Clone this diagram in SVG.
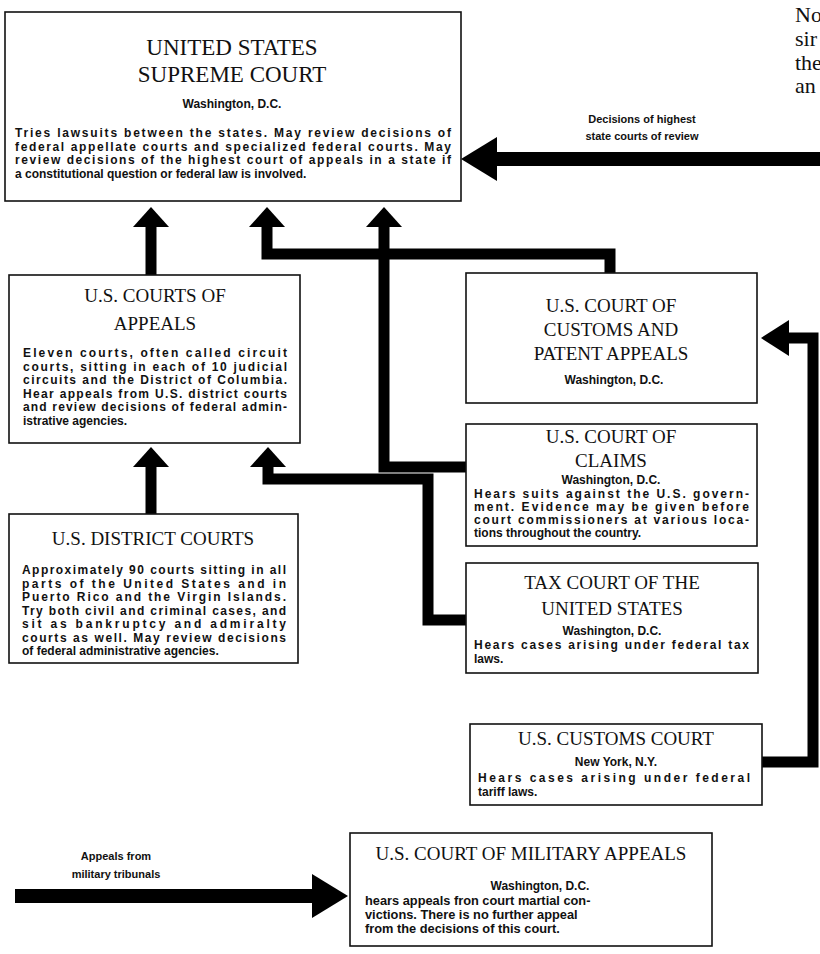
<svg xmlns="http://www.w3.org/2000/svg" width="820" height="954" viewBox="0 0 820 954">
<style>
.box{fill:#fff;stroke:#111;stroke-width:1.6}
.t{font-family:"Liberation Serif",serif;font-size:19px;text-anchor:middle;fill:#111}
.tb{font-family:"Liberation Serif",serif;font-size:23px;text-anchor:middle;fill:#111}
.loc{font-family:"Liberation Sans",sans-serif;font-weight:bold;font-size:12px;text-anchor:middle;fill:#111}
.b{font-family:"Liberation Sans",sans-serif;font-weight:bold;font-size:12px;fill:#111}
.bs{font-family:"Liberation Sans",sans-serif;font-weight:bold;font-size:12.8px;fill:#111}
.lab{font-family:"Liberation Sans",sans-serif;font-weight:bold;font-size:11px;text-anchor:middle;fill:#111}
.frag{font-family:"Liberation Serif",serif;font-size:22px;fill:#111}
.c{fill:none;stroke:#000;stroke-width:11;stroke-linejoin:miter}
.cw{fill:none;stroke:#000;stroke-width:14}
</style>
<defs>
<marker id="ah" markerUnits="userSpaceOnUse" viewBox="0 0 20 36" markerWidth="20" markerHeight="36" refX="1" refY="18" orient="auto">
<path d="M0,0 L20,18 L0,36 Z" fill="#000"/>
</marker>
<marker id="ahL" markerUnits="userSpaceOnUse" viewBox="0 0 36 44" markerWidth="36" markerHeight="44" refX="1" refY="22" orient="auto">
<path d="M0,0 L36,22 L0,44 Z" fill="#000"/>
</marker>
<marker id="ahM" markerUnits="userSpaceOnUse" viewBox="0 0 28 36" markerWidth="28" markerHeight="36" refX="1" refY="18" orient="auto">
<path d="M0,0 L28,18 L0,36 Z" fill="#000"/>
</marker>
</defs>

<g id="page-fragment">
<text class="frag" x="795" y="22">No</text>
<text class="frag" x="795" y="46">sir</text>
<text class="frag" x="795" y="70">the</text>
<text class="frag" x="795" y="93">an</text>
</g>

<g id="connectors">
<polyline class="cw" points="820,159 496,159" marker-end="url(#ahL)"/>
<polyline class="c" points="151,514 151,466" marker-end="url(#ah)"/>
<polyline class="c" points="151,276 151,226" marker-end="url(#ah)"/>
<polyline class="c" points="466,620 428,620 428,479 268,479 268,466" marker-end="url(#ah)"/>
<polyline class="c" points="610,273 610,254 267,254 267,226" marker-end="url(#ah)"/>
<polyline class="c" points="466,467 384,467 384,226" marker-end="url(#ah)"/>
<polyline class="c" points="762,762 813,762 813,338 788,338" marker-end="url(#ahM)"/>
<polyline class="cw" points="15,896 313,896" marker-end="url(#ahL)"/>
<text class="lab" x="642" y="123">Decisions of highest</text>
<text class="lab" x="642" y="140">state courts of review</text>
<text class="lab" x="116" y="860">Appeals from</text>
<text class="lab" x="116" y="878">military tribunals</text>
</g>

<g id="supreme-court">
<rect class="box" x="5" y="12" width="456" height="189"/>
<text class="tb" x="232" y="55">UNITED STATES</text>
<text class="tb" x="232" y="82">SUPREME COURT</text>
<text class="loc" x="232" y="108">Washington, D.C.</text>
<text class="b" x="15" y="137" textLength="436" lengthAdjust="spacing">Tries lawsuits between the states. May review decisions of</text>
<text class="b" x="15" y="150.5" textLength="436" lengthAdjust="spacing">federal appellate courts and specialized federal courts. May</text>
<text class="b" x="15" y="164" textLength="436" lengthAdjust="spacing">review decisions of the highest court of appeals in a state if</text>
<text class="b" x="15" y="177.5">a constitutional question or federal law is involved.</text>
</g>

<g id="courts-of-appeals">
<rect class="box" x="9" y="275" width="291" height="168"/>
<text class="t" x="155" y="302">U.S. COURTS OF</text>
<text class="t" x="155" y="330">APPEALS</text>
<text class="b" x="23" y="357" textLength="264" lengthAdjust="spacing">Eleven courts, often called circuit</text>
<text class="b" x="23" y="371" textLength="264" lengthAdjust="spacing">courts, sitting in each of 10 judicial</text>
<text class="b" x="23" y="384" textLength="264" lengthAdjust="spacing">circuits and the District of Columbia.</text>
<text class="b" x="23" y="398" textLength="264" lengthAdjust="spacing">Hear appeals from U.S. district courts</text>
<text class="b" x="23" y="411" textLength="264" lengthAdjust="spacing">and review decisions of federal admin-</text>
<text class="b" x="23" y="425">istrative agencies.</text>
</g>

<g id="district-courts">
<rect class="box" x="9" y="514" width="289" height="149"/>
<text class="t" x="153" y="545">U.S. DISTRICT COURTS</text>
<text class="b" x="22" y="574" textLength="264" lengthAdjust="spacing">Approximately 90 courts sitting in all</text>
<text class="b" x="22" y="587.5" textLength="264" lengthAdjust="spacing">parts of the United States and in</text>
<text class="b" x="22" y="601" textLength="264" lengthAdjust="spacing">Puerto Rico and the Virgin Islands.</text>
<text class="b" x="22" y="614.5" textLength="264" lengthAdjust="spacing">Try both civil and criminal cases, and</text>
<text class="b" x="22" y="628" textLength="264" lengthAdjust="spacing">sit as bankruptcy and admiralty</text>
<text class="b" x="22" y="641.5" textLength="264" lengthAdjust="spacing">courts as well. May review decisions</text>
<text class="b" x="22" y="655">of federal administrative agencies.</text>
</g>

<g id="customs-patent-appeals">
<rect class="box" x="466" y="273" width="291" height="130"/>
<text class="t" x="611" y="312">U.S. COURT OF</text>
<text class="t" x="611" y="336">CUSTOMS AND</text>
<text class="t" x="611" y="360">PATENT APPEALS</text>
<text class="loc" x="614" y="384">Washington, D.C.</text>
</g>

<g id="court-of-claims">
<rect class="box" x="466" y="424" width="291" height="122"/>
<text class="t" x="611" y="443">U.S. COURT OF</text>
<text class="t" x="611" y="467">CLAIMS</text>
<text class="loc" x="611" y="484">Washington, D.C.</text>
<text class="b" x="474" y="498" textLength="275" lengthAdjust="spacing">Hears suits against the U.S. govern-</text>
<text class="b" x="474" y="511" textLength="275" lengthAdjust="spacing">ment. Evidence may be given before</text>
<text class="b" x="474" y="524" textLength="275" lengthAdjust="spacing">court commissioners at various loca-</text>
<text class="b" x="474" y="537">tions throughout the country.</text>
</g>

<g id="tax-court">
<rect class="box" x="466" y="563" width="292" height="110"/>
<text class="t" x="612" y="589">TAX COURT OF THE</text>
<text class="t" x="612" y="615">UNITED STATES</text>
<text class="loc" x="612" y="635">Washington, D.C.</text>
<text class="b" x="474" y="649" textLength="275" lengthAdjust="spacing">Hears cases arising under federal tax</text>
<text class="b" x="474" y="663">laws.</text>
</g>

<g id="customs-court">
<rect class="box" x="470" y="724" width="292" height="81"/>
<text class="t" x="616" y="745">U.S. CUSTOMS COURT</text>
<text class="loc" x="616" y="766">New York, N.Y.</text>
<text class="b" x="478" y="782" textLength="272" lengthAdjust="spacing">Hears cases arising under federal</text>
<text class="b" x="478" y="796">tariff laws.</text>
</g>

<g id="military-appeals">
<rect class="box" x="350" y="833" width="362" height="113"/>
<text class="t" x="531" y="860">U.S. COURT OF MILITARY APPEALS</text>
<text class="loc" x="540" y="890">Washington, D.C.</text>
<text class="bs" x="365" y="905">hears appeals fron court martial con-</text>
<text class="bs" x="365" y="919">victions. There is no further appeal</text>
<text class="bs" x="365" y="933">from the decisions of this court.</text>
</g>
</svg>
